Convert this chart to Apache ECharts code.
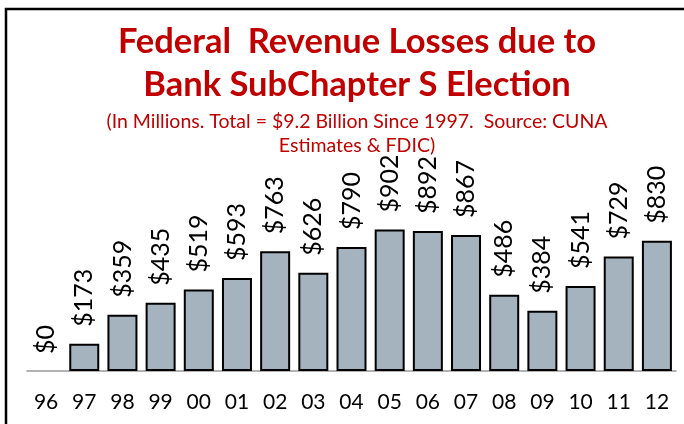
<!DOCTYPE html>
<html>
<head>
<meta charset="utf-8">
<script src="https://cdn.jsdelivr.net/npm/echarts@6/dist/echarts.min.js"></script>
<style>
  html, body { margin: 0; padding: 0; background: #fff; }
  #chart { width: 684px; height: 424px; }
</style>
</head>
<body>
<div id="chart"></div>
<script>
// years along the axis
const years = ['96', '97', '98', '99', '00', '01', '02', '03', '04', '05', '06', '07', '08', '09', '10', '11', '12'];
// revenue losses, $ millions
const losses = [0, 173, 359, 435, 519, 593, 763, 626, 790, 902, 892, 867, 486, 384, 541, 729, 830];

const red = '#c00000';
const font = 'Lato, "Open Sans", sans-serif';

const chart = echarts.init(document.getElementById('chart'));
chart.setOption({
    animation: false,
    backgroundColor: '#fff',
    graphic: [{
        type: 'rect',
        shape: { x: 6, y: 9, width: 720, height: 500 },
        style: { fill: 'none', stroke: '#000', lineWidth: 2.5 }
    }],
    title: [{
        text: 'Federal  Revenue Losses due to\nBank SubChapter S Election',
        left: 352, top: 15, textAlign: 'center',
        textStyle: { color: red, fontFamily: font, fontWeight: 'bold', fontSize: 34.5, lineHeight: 43 }
    }, {
        text: '(In Millions. Total = $9.2 Billion Since 1997.  Source: CUNA\nEstimates & FDIC)',
        left: 352, top: 105, textAlign: 'center',
        textStyle: { color: red, fontFamily: font, fontWeight: 'normal', fontSize: 19.5, lineHeight: 24 }
    }],
    grid: { left: 27, right: 8, top: 214, bottom: 53 },
    xAxis: {
        type: 'category',
        data: years,
        axisLine: { lineStyle: { color: '#999', width: 1.5 } },
        axisTick: { length: 6, lineStyle: { color: '#999', width: 1.5 } },
        axisLabel: { color: '#000', fontFamily: font, fontSize: 21, margin: 21 }
    },
    yAxis: {
        type: 'value', min: 0, max: 1000,
        show: false,
        splitLine: { show: false }
    },
    series: [{
        type: 'bar',
        // a zero bar draws no outline
        data: losses.map(v => v === 0 ? { value: v, itemStyle: { borderWidth: 0 } } : v),
        barWidth: 30,
        itemStyle: { color: '#a5b3be', borderColor: '#000', borderWidth: 2 },
        label: {
            show: true,
            position: 'top',
            rotate: 90,
            align: 'left',
            verticalAlign: 'middle',
            distance: 17,
            color: '#000',
            fontFamily: font,
            fontSize: 25,
            formatter: p => '$' + p.value
        }
    }]
});
</script>
</body>
</html>
